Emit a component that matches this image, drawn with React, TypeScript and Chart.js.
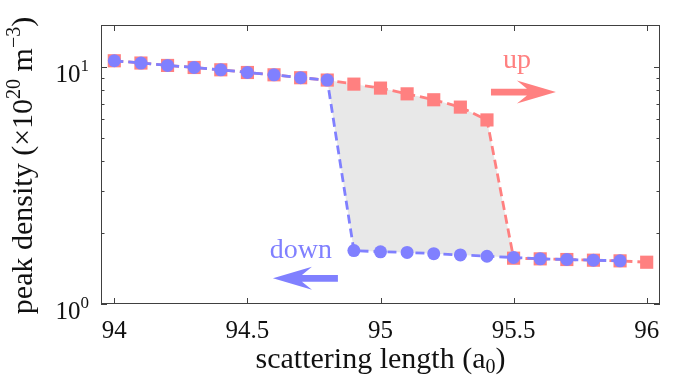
import React, { useEffect, useRef } from 'react';
import { Chart, registerables } from 'chart.js';

Chart.register(...registerables);

// ---- data ----
const xUp = [94, 94.1, 94.2, 94.3, 94.4, 94.5, 94.6, 94.7, 94.8, 94.9, 95, 95.1, 95.2, 95.3, 95.4, 95.5, 95.6, 95.7, 95.8, 95.9, 96];
const upDensity = [10.6, 10.37, 10.13, 9.93, 9.71, 9.46, 9.25, 8.99, 8.79, 8.45, 8.13, 7.69, 7.26, 6.76, 5.97, 1.56, 1.55, 1.54, 1.53, 1.52, 1.5];
const xDown = [94, 94.1, 94.2, 94.3, 94.4, 94.5, 94.6, 94.7, 94.8, 94.9, 95, 95.1, 95.2, 95.3, 95.4, 95.5, 95.6, 95.7, 95.8, 95.9];
const downDensity = [10.6, 10.37, 10.13, 9.93, 9.71, 9.46, 9.25, 8.99, 8.79, 1.68, 1.66, 1.65, 1.63, 1.61, 1.59, 1.57, 1.55, 1.54, 1.53, 1.52];

const hysteresisRange = [94.8, 95.5];

const xTicks = [94, 94.5, 95, 95.5, 96];
const xTickLabels = ['94', '94.5', '95', '95.5', '96'];
const yMajorTicks = [1, 10];
const yTickExponents = ['0', '1'];
const yMinorTicks = [2, 3, 4, 5, 6, 7, 8, 9];

// annotations (data coordinates)
const upArrow = { from: [95.415, 7.82], to: [95.659, 7.82] };
const downArrow = { from: [94.84, 1.283], to: [94.596, 1.283] };
const upLabel = { text: 'up', at: [95.513, 9.9] };
const downLabel = { text: 'down', at: [94.701, 1.564] };

const RED = '#ff8080';
const BLUE = '#8080ff';
const FONT = '"Liberation Serif", "Times New Roman", serif';

type Part = { t: string; size: number; dy?: number };

function richWidth(ctx: CanvasRenderingContext2D, parts: Part[]) {
  let w = 0;
  for (const p of parts) {
    ctx.font = `${p.size}px ${FONT}`;
    w += ctx.measureText(p.t).width;
  }
  return w;
}

function drawRich(ctx: CanvasRenderingContext2D, parts: Part[], x: number, y: number, align: 'left' | 'center' | 'right') {
  const w = richWidth(ctx, parts);
  let cx = align === 'left' ? x : align === 'center' ? x - w / 2 : x - w;
  ctx.textAlign = 'left';
  ctx.textBaseline = 'alphabetic';
  for (const p of parts) {
    ctx.font = `${p.size}px ${FONT}`;
    ctx.fillText(p.t, cx, y + (p.dy || 0));
    cx += ctx.measureText(p.t).width;
  }
}

function drawArrow(ctx: CanvasRenderingContext2D, x0: number, y0: number, x1: number, y1: number, color: string) {
  const dx = x1 - x0, dy = y1 - y0;
  const len = Math.hypot(dx, dy);
  const ux = dx / len, uy = dy / len;
  const nx = -uy, ny = ux;
  const headLen = 39, headHalf = 11.5, notch = 10, shaftHalf = 3.3;
  const bx = x1 - ux * headLen, by = y1 - uy * headLen;
  const ix = x1 - ux * (headLen - notch), iy = y1 - uy * (headLen - notch);
  ctx.fillStyle = color;
  ctx.beginPath();
  ctx.moveTo(x0 + nx * shaftHalf, y0 + ny * shaftHalf);
  ctx.lineTo(ix + nx * shaftHalf, iy + ny * shaftHalf);
  ctx.lineTo(bx + nx * headHalf, by + ny * headHalf);
  ctx.lineTo(x1, y1);
  ctx.lineTo(bx - nx * headHalf, by - ny * headHalf);
  ctx.lineTo(ix - nx * shaftHalf, iy - ny * shaftHalf);
  ctx.lineTo(x0 - nx * shaftHalf, y0 - ny * shaftHalf);
  ctx.closePath();
  ctx.fill();
}

const overlayPlugin = {
  id: 'overlay',
  afterDraw(chart: any) {
    const { ctx, chartArea: a, scales } = chart;
    const xs = scales.x, ys = scales.y;
    ctx.save();

    // annotations
    const ax0 = xs.getPixelForValue(upArrow.from[0]), ay0 = ys.getPixelForValue(upArrow.from[1]);
    const ax1 = xs.getPixelForValue(upArrow.to[0]), ay1 = ys.getPixelForValue(upArrow.to[1]);
    drawArrow(ctx, ax0, ay0, ax1, ay1, RED);
    const bx0 = xs.getPixelForValue(downArrow.from[0]), by0 = ys.getPixelForValue(downArrow.from[1]);
    const bx1 = xs.getPixelForValue(downArrow.to[0]), by1 = ys.getPixelForValue(downArrow.to[1]);
    drawArrow(ctx, bx0, by0, bx1, by1, BLUE);

    ctx.fillStyle = RED;
    drawRich(ctx, [{ t: upLabel.text, size: 28 }], xs.getPixelForValue(upLabel.at[0]), ys.getPixelForValue(upLabel.at[1]), 'center');
    ctx.fillStyle = BLUE;
    drawRich(ctx, [{ t: downLabel.text, size: 28 }], xs.getPixelForValue(downLabel.at[0]), ys.getPixelForValue(downLabel.at[1]), 'center');

    // box
    ctx.strokeStyle = '#404040';
    ctx.lineWidth = 1;
    ctx.strokeRect(a.left + 0.5, a.top + 0.5, a.right - a.left - 1, a.bottom - a.top - 1);

    // ticks
    ctx.beginPath();
    for (const v of xTicks) {
      const px = Math.round(xs.getPixelForValue(v)) + 0.5;
      ctx.moveTo(px, a.bottom); ctx.lineTo(px, a.bottom - 6);
      ctx.moveTo(px, a.top); ctx.lineTo(px, a.top + 6);
    }
    for (const v of yMajorTicks) {
      const py = Math.round(ys.getPixelForValue(v)) + 0.5;
      ctx.moveTo(a.left, py); ctx.lineTo(a.left + 6, py);
      ctx.moveTo(a.right, py); ctx.lineTo(a.right - 6, py);
    }
    for (const v of yMinorTicks) {
      const py = Math.round(ys.getPixelForValue(v)) + 0.5;
      ctx.moveTo(a.left, py); ctx.lineTo(a.left + 3.5, py);
      ctx.moveTo(a.right, py); ctx.lineTo(a.right - 3.5, py);
    }
    ctx.stroke();

    // tick labels
    ctx.fillStyle = '#111';
    xTicks.forEach((v, i) => {
      drawRich(ctx, [{ t: xTickLabels[i], size: 25 }], xs.getPixelForValue(v), a.bottom + 34, 'center');
    });
    yMajorTicks.forEach((v, i) => {
      drawRich(ctx, [{ t: '10', size: 25 }, { t: yTickExponents[i], size: 17, dy: -11 }], a.left - 12, ys.getPixelForValue(v) + 15, 'right');
    });

    // axis titles
    drawRich(ctx, [{ t: 'scattering length (a', size: 30 }, { t: '0', size: 20, dy: 5 }, { t: ')', size: 30 }], (a.left + a.right) / 2, a.bottom + 64, 'center');
    ctx.save();
    ctx.translate(32, (a.top + a.bottom) / 2 + 1);
    ctx.rotate(-Math.PI / 2);
    drawRich(ctx, [
      { t: 'peak density (×10', size: 30 },
      { t: '20', size: 20, dy: -12 },
      { t: ' m', size: 30 },
      { t: '−3', size: 20, dy: -12 },
      { t: ')', size: 30 },
    ], 0, 0, 'center');
    ctx.restore();

    ctx.restore();
  },
};

export default function App() {
  const ref = useRef<HTMLCanvasElement>(null);
  useEffect(() => {
    if (!ref.current) return;
    const upPts = xUp.map((x, i) => ({ x, y: upDensity[i] }));
    const downPts = xDown.map((x, i) => ({ x, y: downDensity[i] }));
    const inRange = (p: { x: number }) => p.x >= hysteresisRange[0] - 1e-9 && p.x <= hysteresisRange[1] + 1e-9;
    const loop = [...upPts.filter(inRange), ...downPts.filter(inRange).reverse()];

    const chart = new Chart(ref.current, {
      type: 'line',
      data: {
        datasets: [
          {
            label: 'down',
            data: downPts,
            borderColor: BLUE,
            backgroundColor: BLUE,
            borderWidth: 2.8,
            borderDash: [9, 5],
            pointStyle: 'circle',
            pointRadius: 6.5,
            pointBorderWidth: 0,
            fill: false,
            order: 0,
          },
          {
            label: 'up',
            data: upPts,
            borderColor: RED,
            backgroundColor: RED,
            borderWidth: 2.8,
            borderDash: [9, 5],
            pointStyle: 'rect',
            pointRadius: 9.3,
            pointBorderWidth: 0,
            fill: false,
            order: 1,
          },
          {
            label: 'hysteresis',
            data: loop,
            borderColor: 'transparent',
            backgroundColor: '#e8e8e8',
            borderWidth: 0,
            pointRadius: 0,
            fill: 'shape',
            order: 2,
          },
        ],
      },
      options: {
        responsive: false,
        animation: false,
        layout: { padding: { left: 101, right: 13, top: 25, bottom: 72 } },
        plugins: { legend: { display: false }, tooltip: { enabled: false } },
        scales: {
          x: { type: 'linear', min: 93.95, max: 96.05, display: false },
          y: { type: 'logarithmic', min: 1, max: 15, display: false },
        },
      },
      plugins: [overlayPlugin],
    });
    return () => chart.destroy();
  }, []);

  return (
    <div style={{ position: 'absolute', left: 0, top: 0, width: 673, height: 376, background: '#fff' }}>
      <canvas ref={ref} width={673} height={376} />
    </div>
  );
}
